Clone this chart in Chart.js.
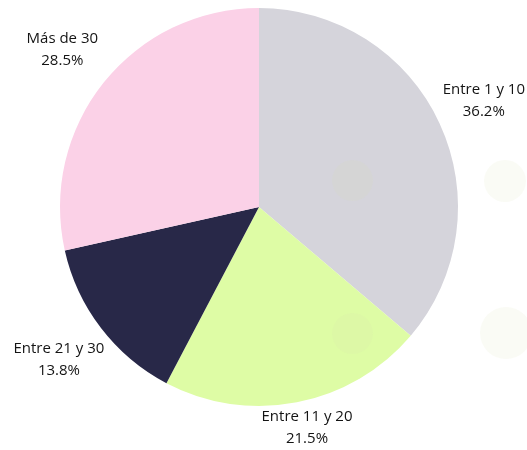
<!DOCTYPE html>
<html>
<head>
<meta charset="utf-8">
<script src="https://cdn.jsdelivr.net/npm/chart.js@4"></script>
<style>
    html, body { margin: 0; padding: 0; background: #fff; }
    #wrap { position: relative; width: 527px; height: 450px; }
    .dot { position: absolute; border-radius: 50%; background: rgba(215, 222, 180, 0.13); pointer-events: none; }
</style>
</head>
<body>
<div id="wrap">
    <canvas id="myChart" width="527" height="450"></canvas>
    <!-- decorative circles over the chart -->
    <div class="dot" style="left:332px;top:160px;width:41px;height:41px"></div>
    <div class="dot" style="left:484px;top:160px;width:42px;height:42px"></div>
    <div class="dot" style="left:332px;top:313px;width:41px;height:41px"></div>
    <div class="dot" style="left:480px;top:307px;width:52px;height:52px"></div>
</div>
<script>
var categories = ['Entre 1 y 10', 'Entre 11 y 20', 'Entre 21 y 30', 'Más de 30'];
var values = [36.2, 21.5, 13.8, 28.5];
var colors = ['#d5d4db', '#defca5', '#282848', '#fbd1e7'];

// Etiquettes autour du camembert
var outerLabels = {
    id: 'outerLabels',
    afterDraw: function(chart) {
        var ctx = chart.ctx;
        var meta = chart.getDatasetMeta(0);
        ctx.save();
        ctx.font = '15px "Open Sans", sans-serif';
        ctx.fillStyle = '#141414';
        ctx.textAlign = 'center';
        ctx.textBaseline = 'middle';
        meta.data.forEach(function(arc, i) {
            var mid = (arc.startAngle + arc.endAngle) / 2;
            var r = arc.outerRadius + 53;
            var x = arc.x + Math.cos(mid) * r;
            var y = arc.y + Math.sin(mid) * r;
            var line1 = categories[i];
            var line2 = values[i].toFixed(1) + '%';
            var w = Math.max(ctx.measureText(line1).width, ctx.measureText(line2).width);
            var h = 44;
            x = Math.min(Math.max(x, w / 2 + 2), chart.width - w / 2 - 2);
            y = Math.min(Math.max(y, h / 2 + 2), chart.height - h / 2);
            ctx.fillText(line1, x, y - 11);
            ctx.fillText(line2, x, y + 11);
        });
        ctx.restore();
    }
};

var ctx = document.getElementById('myChart').getContext('2d');
var myChart = new Chart(ctx, {
    type: 'pie',
    data: {
        labels: categories,
        datasets: [{
            data: values,
            backgroundColor: colors,
            borderWidth: 0
        }]
    },
    options: {
        responsive: false,
        animation: false,
        layout: { padding: { top: 8, bottom: 44, left: 60, right: 69 } },
        plugins: {
            legend: { display: false },
            tooltip: { enabled: false }
        }
    },
    plugins: [outerLabels]
});
</script>
</body>
</html>
